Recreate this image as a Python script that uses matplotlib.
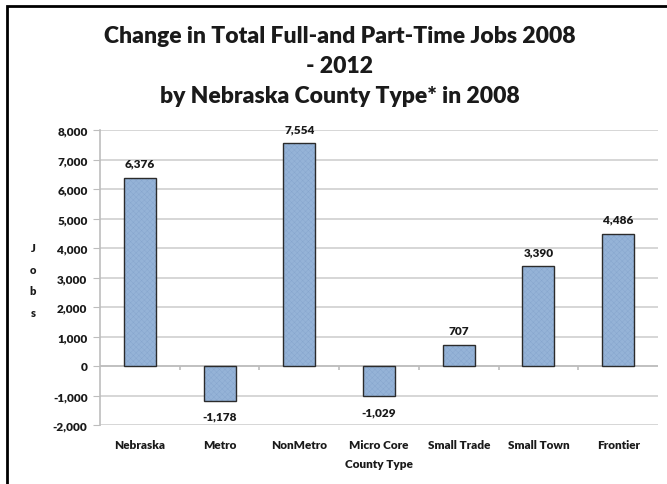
import numpy as np
import matplotlib
matplotlib.use("Agg")
import matplotlib.pyplot as plt
from matplotlib.patches import Rectangle

# données
county_types = ["Nebraska", "Metro", "NonMetro", "Micro Core", "Small Trade", "Small Town", "Frontier"]
job_change = [6376, -1178, 7554, -1029, 707, 3390, 4486]
y_ticks = list(range(-2000, 8001, 1000))

plt.rcParams["font.family"] = ["Lato", "DejaVu Sans"]
plt.rcParams["hatch.linewidth"] = 0.3

W, H = 667, 485
fig = plt.figure(figsize=(W / 100, H / 100), dpi=100)

# cadre noir (haut + gauche)
fig.patches.append(Rectangle((7 / W, -0.1), 1.2, 1 - 7 / H + 0.1, transform=fig.transFigure,
                             fill=False, edgecolor="black", linewidth=2))

ax = fig.add_axes([100 / W, 1 - 426 / H, 558 / W, 295 / H])
x = np.arange(len(county_types))
txt = dict(fontweight="heavy", color="#1a1a1a")

# barres : remplissage texturé + contour foncé
ax.bar(x, job_change, width=0.4, color="#95B3D7", edgecolor="#86a5cd", hatch="xxxxxx", linewidth=0, zorder=3)
ax.bar(x, job_change, width=0.4, fill=False, edgecolor="#2b2b2b", linewidth=1.0, zorder=4)

for xi, v in zip(x, job_change):
    off, va = (6.5, "bottom") if v >= 0 else (-7, "top")
    ax.annotate(f"{v:,}", (xi, v), xytext=(0, off), textcoords="offset points",
                ha="center", va=va, fontsize=8.5, **txt)

ax.set_xlim(-0.5, len(county_types) - 0.5)
ax.set_ylim(-2000, 8000)
ax.set_yticks(y_ticks)
ax.set_yticklabels([f"{t:,}" for t in y_ticks], fontsize=8.5, **txt)
ax.grid(axis="y", color="#d0d0d0", linewidth=1.2, zorder=0)
ax.tick_params(axis="y", length=5, color="#bdbdbd", pad=4)

ax.set_xticks(x)
ax.set_xticklabels(county_types, fontsize=8.5, **txt)
ax.tick_params(axis="x", length=0, pad=10)
ax.set_xlabel("County Type", fontsize=8.5, labelpad=6, **txt)

# axe des catégories à zéro avec petites graduations
ax.axhline(0, color="#bdbdbd", linewidth=1.2, zorder=2)
ax.vlines(x[:-1] + 0.5, -130, 0, color="#bdbdbd", linewidth=1.2, zorder=2)

for s in ["top", "right", "bottom"]:
    ax.spines[s].set_visible(False)
ax.spines["left"].set_color("#bdbdbd")
ax.spines["left"].set_linewidth(1.2)

fig.text(33 / W, 1 - 281 / H, "J\no\nb\ns", ha="center", va="center", fontsize=8,
         linespacing=2.2, **txt)

title_lines = ["Change in Total Full-and Part-Time Jobs 2008", "- 2012", "by Nebraska County Type* in 2008"]
for i, line in enumerate(title_lines):
    fig.text(340 / W, 1 - (43 + 30 * i) / H, line, ha="center", va="baseline",
             fontsize=16.5, **txt)

fig.savefig("out.png", dpi=100, facecolor="white")
